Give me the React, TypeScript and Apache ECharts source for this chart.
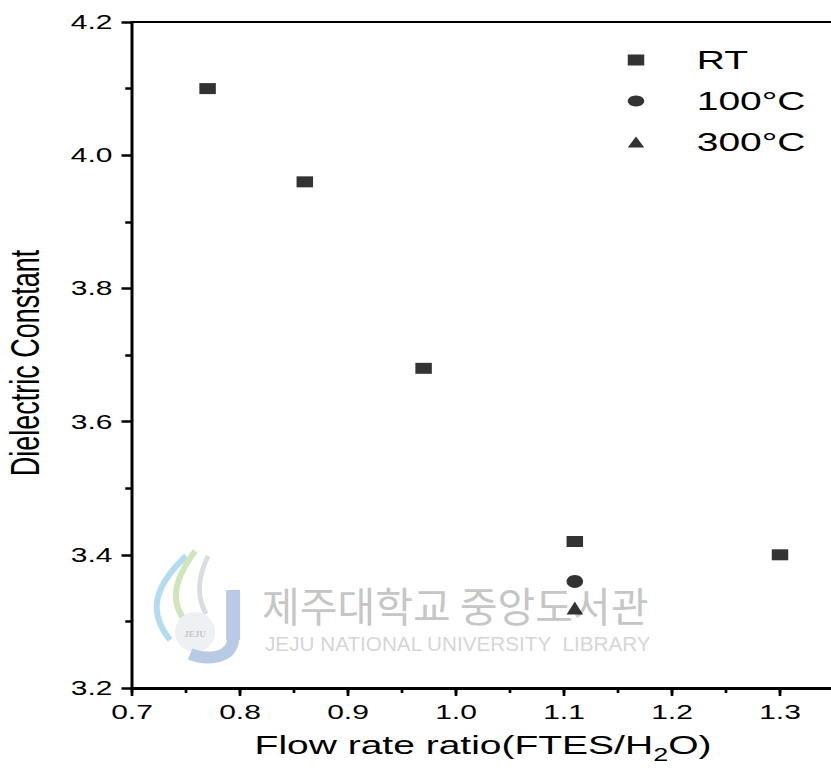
import React, { useEffect, useRef } from "react";
import * as echarts from "echarts";

// The reference figure is stretched horizontally; reproduce by rendering narrower and scaling X.
const S = 1.5;
const W = 831 / S;
const H = 776;

const xMin = 0.7;
const xMax = 1.35;
const yMin = 3.2;
const yMax = 4.2;

const seriesNames = ["RT", "100°C", "300°C"];
const rtX = [0.77, 0.86, 0.97, 1.11, 1.3];
const rtY = [4.1, 3.96, 3.68, 3.42, 3.4];
const c100X = [1.11];
const c100Y = [3.36];
const c300X = [1.11];
const c300Y = [3.32];

const xTitle = "{m|Flow rate ratio(FTES/H}{sub|2}{m|O)}";
const yTitle = "Dielectric Constant";
const wmKorean = "제주대학교 중앙도서관";
const wmEnglish = "JEJU NATIONAL UNIVERSITY  LIBRARY";

const FONT = "Liberation Sans, Arial, sans-serif";

export default function App() {
  const ref = useRef<HTMLDivElement>(null);
  useEffect(() => {
    if (!ref.current) return;
    const chart = echarts.init(ref.current, null, { renderer: "svg" });
    const pair = (xs: number[], ys: number[]) => xs.map((x, i) => [x, ys[i]]);
    const fmt01 = (v: number) =>
      Math.abs(v * 10 - Math.round(v * 10)) < 1e-6 ? v.toFixed(1) : "";
    const option: any = {
      animation: false,
      backgroundColor: "#fff",
      grid: {
        left: 88,
        top: 22,
        width: (xMax - xMin) * 720,
        height: 666,
        containLabel: false,
        outerBoundsMode: "none",
      },
      legend: {
        orient: "vertical",
        left: 418.5,
        top: 45,
        padding: 0,
        itemWidth: 11,
        itemHeight: 11,
        itemGap: 11,
        data: seriesNames,
        textStyle: {
          fontSize: 26,
          color: "#000",
          fontFamily: FONT,
          padding: [0, 0, 0, 30],
          lineHeight: 30,
        },
      },
      xAxis: [
        {
          type: "value",
          position: "bottom",
          min: xMin,
          max: xMax,
          interval: 0.05,
          axisLine: { show: true, lineStyle: { color: "#000", width: 3 } },
          axisTick: { show: true, inside: false, length: 5, lineStyle: { color: "#000", width: 1.8 } },
          axisLabel: { show: false },
          splitLine: { show: false },
          name: xTitle,
          nameLocation: "middle",
          nameGap: 44,
          nameTextStyle: {
            fontSize: 26,
            color: "#000",
            fontFamily: FONT,
            rich: {
              m: {
                fontSize: 26,
                fontFamily: FONT,
                color: "#000",
                lineHeight: 26,
                verticalAlign: "top",
              },
              sub: {
                fontSize: 18,
                fontFamily: FONT,
                color: "#000",
                verticalAlign: "bottom",
                lineHeight: 32,
              },
            },
          },
        },
        {
          type: "value",
          position: "bottom",
          min: xMin,
          max: xMax,
          interval: 0.1,
          axisLine: { show: false },
          axisTick: { show: true, inside: false, length: 8, lineStyle: { color: "#000", width: 1.8 } },
          axisLabel: {
            show: true,
            formatter: fmt01,
            fontSize: 20,
            margin: 14,
            color: "#000",
            fontFamily: FONT,
          },
          splitLine: { show: false },
        },
        {
          type: "value",
          position: "top",
          min: xMin,
          max: xMax,
          axisLine: { show: true, lineStyle: { color: "#000", width: 2 } },
          axisTick: { show: false },
          axisLabel: { show: false },
          splitLine: { show: false },
        },
      ],
      yAxis: {
        type: "value",
        min: yMin,
        max: yMax,
        interval: 0.2,
        axisLine: { show: true, lineStyle: { color: "#000", width: 2 } },
        axisTick: { show: true, inside: false, length: 7, lineStyle: { color: "#000", width: 2.5 } },
        minorTick: { show: true, splitNumber: 2, length: 4.5, lineStyle: { color: "#000", width: 2.5 } },
        axisLabel: {
          formatter: (v: number) => v.toFixed(1),
          fontSize: 20,
          margin: 13,
          color: "#000",
          fontFamily: FONT,
        },
        splitLine: { show: false },
        minorSplitLine: { show: false },
        name: yTitle,
        nameLocation: "middle",
        nameRotate: 90,
        nameGap: 58,
        nameTextStyle: {
          fontSize: 27,
          color: "#000",
          fontFamily: FONT,
          padding: [0, 16, 0, 0],
        },
      },
      graphic: [
        {
          type: "group",
          x: 0,
          y: 0,
          scaleX: 1 / S,
          z: 1,
          children: [
            {
              type: "bezierCurve",
              z: 1,
              shape: { x1: 186, y1: 556, cpx1: 150, cpy1: 590, cpx2: 150, cpy2: 615, x2: 170, y2: 640 },
              style: { stroke: "#b4dcf0", lineWidth: 6, fill: null },
            },
            {
              type: "bezierCurve",
              z: 1,
              shape: { x1: 195, y1: 551, cpx1: 170, cpy1: 585, cpx2: 172, cpy2: 605, x2: 186, y2: 622 },
              style: { stroke: "#cfe6bd", lineWidth: 6, fill: null },
            },
            {
              type: "bezierCurve",
              z: 1,
              shape: { x1: 208, y1: 556, cpx1: 196, cpy1: 580, cpx2: 198, cpy2: 600, x2: 206, y2: 614 },
              style: { stroke: "#d9dde3", lineWidth: 5, fill: null },
            },
            {
              type: "circle",
              z: 1,
              shape: { cx: 195, cy: 632, r: 20 },
              style: { fill: "#eef1f4" },
            },
            {
              type: "rect",
              z: 1,
              shape: { x: 226, y: 590, width: 14, height: 50 },
              style: { fill: "#b9cbe4" },
            },
            {
              type: "bezierCurve",
              z: 1,
              shape: { x1: 233, y1: 638, cpx1: 233, cpy1: 660, cpx2: 205, cpy2: 660, x2: 190, y2: 654 },
              style: { stroke: "#b9cbe4", lineWidth: 12, fill: null },
            },
            {
              type: "text",
              z: 1,
              x: 195,
              y: 634,
              style: {
                text: "JEJU",
                font: "bold 9px Liberation Serif",
                fill: "#c6c6c6",
                textAlign: "center",
                textVerticalAlign: "middle",
              },
            },
            {
              type: "text",
              z: 1,
              x: 262,
              y: 604,
              style: {
                text: wmKorean,
                font: "41px 'Noto Sans CJK KR'",
                fill: "#c6c6c6",
                textAlign: "left",
                textVerticalAlign: "middle",
              },
            },
            {
              type: "text",
              z: 1,
              x: 265,
              y: 644,
              style: {
                text: wmEnglish,
                font: "20.7px Liberation Sans",
                fill: "#d6d6d6",
                textAlign: "left",
                textVerticalAlign: "middle",
              },
            },
          ],
        },
      ],
      series: [
        {
          type: "scatter",
          name: seriesNames[0],
          data: pair(rtX, rtY),
          symbol: "rect",
          symbolSize: [11, 11],
          itemStyle: { color: "#000" },
          xAxisIndex: 0,
          yAxisIndex: 0,
          z: 3,
        },
        {
          type: "scatter",
          name: seriesNames[1],
          data: pair(c100X, c100Y),
          symbol: "circle",
          symbolSize: [11, 13],
          itemStyle: { color: "#000" },
          xAxisIndex: 0,
          yAxisIndex: 0,
          z: 3,
        },
        {
          type: "scatter",
          name: seriesNames[2],
          data: pair(c300X, c300Y),
          symbol: "triangle",
          symbolSize: [11, 13],
          itemStyle: { color: "#000" },
          xAxisIndex: 0,
          yAxisIndex: 0,
          z: 3,
        },
      ],
    };
    chart.setOption(option);
    return () => chart.dispose();
  }, []);
  return (
    <div
      ref={ref}
      style={{
        position: "absolute",
        left: 0,
        top: 0,
        width: W,
        height: H,
        transform: `scaleX(${S})`,
        transformOrigin: "0 0",
        background: "#fff",
      }}
    />
  );
}
